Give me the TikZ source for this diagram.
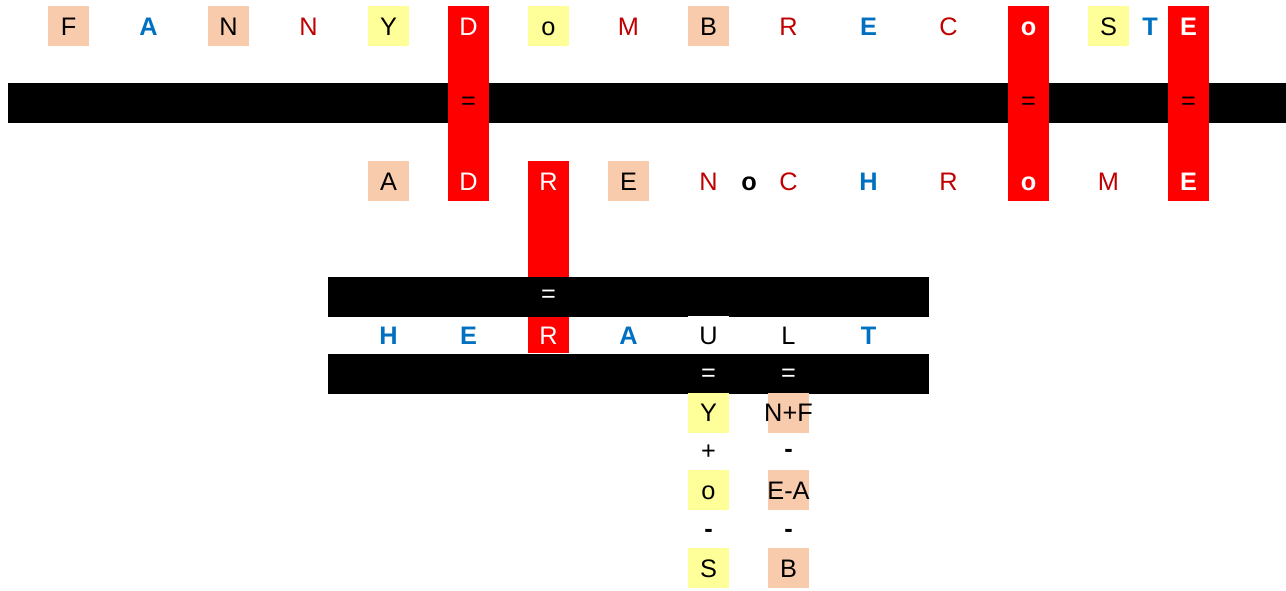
\documentclass[tikz,border=0pt]{standalone}
\usepackage{fontspec}
\setmainfont{Liberation Sans}
\usepackage{xcolor}
\definecolor{GridPeach}{HTML}{F8CBAD}
\definecolor{GridYellow}{HTML}{FFFF99}
\definecolor{GridRed}{HTML}{FF0000}
\definecolor{GridDarkRed}{HTML}{C00000}
\definecolor{GridBlue}{HTML}{0070C0}

\begin{document}
\begin{tikzpicture}[
  x=0.75pt,
  y=-0.75pt,
  letter/.style={
    inner sep=0pt,
    minimum width=30.75pt,
    minimum height=30pt,
    text height=13.6pt,
    text depth=0pt,
    font=\fontsize{19}{22}\selectfont
  },
  peachcell/.style={letter, fill=GridPeach, text=black},
  yellowcell/.style={letter, fill=GridYellow, text=black},
  onred/.style={letter, text=white},
  onredbold/.style={onred, font=\fontsize{19}{22}\selectfont\bfseries},
  blueletter/.style={letter, text=GridBlue, font=\fontsize{19}{22}\selectfont\bfseries},
  redletter/.style={letter, text=GridDarkRed},
  blackletter/.style={letter, text=black},
  sign/.style={inner sep=0pt, font=\fontsize{19}{22}\selectfont},
  bar/.style={fill=black},
  column/.style={fill=GridRed}
]

\useasboundingbox (0,0) rectangle (1286,590);

\fill[bar] (8,83) rectangle (1286,123);
\fill[bar] (328,277) rectangle (929,317);
\fill[bar] (328,354) rectangle (929,394);

\fill[column] (448,6) rectangle (489,201);
\fill[column] (1008,6) rectangle (1049,201);
\fill[column] (1168,6) rectangle (1209,201);
\fill[column] (528,161) rectangle (569,277);
\fill[column] (528,317) rectangle (569,353);

\node[peachcell] (fanF) at (68.5,26) {F};
\node[blueletter] (fanA) at (148.5,26) {A};
\node[peachcell] (fanN1) at (228.5,26) {N};
\node[redletter] (fanN2) at (308.5,26) {N};
\node[yellowcell] (fanY) at (388.5,26) {Y};
\node[onred] (domD) at (468.5,26) {D};
\node[yellowcell] (domO) at (548.5,26) {o};
\node[redletter] (domM) at (628.5,26) {M};
\node[peachcell] (breB) at (708.5,26) {B};
\node[redletter] (breR) at (788.5,26) {R};
\node[blueletter] (breE) at (868.5,26) {E};
\node[redletter] (cosC) at (948.5,26) {C};
\node[onredbold] (cosO) at (1028.5,26) {o};
\node[yellowcell] (cosS) at (1108.5,26) {S};
\node[blueletter] (cosT) at (1150,26) {T};
\node[onredbold] (cosE) at (1188.5,26) {E};

\foreach \x/\n in {468.5/eqD,1028.5/eqO,1188.5/eqE} {
  \node[sign,text=black] (\n) at (\x,103.5) {=};
}

\node[peachcell] (adrA) at (388.5,181) {A};
\node[onred] (adrD) at (468.5,181) {D};
\node[onred] (adrR) at (548.5,181) {R};
\node[peachcell] (adrE) at (628.5,181) {E};
\node[redletter] (nocN) at (708.5,181) {N};
\node[blackletter,font=\fontsize{19}{22}\selectfont\bfseries] (nocO) at (749,181) {o};
\node[redletter] (nocC) at (788.5,181) {C};
\node[blueletter] (chrH) at (868.5,181) {H};
\node[redletter] (chrR) at (948.5,181) {R};
\node[onredbold] (chrO) at (1028.5,181) {o};
\node[redletter] (chrM) at (1108.5,181) {M};
\node[onredbold] (chrE) at (1188.5,181) {E};

\node[sign,text=white] (eqR) at (548.5,296.5) {=};

\node[blueletter] (herH) at (388.5,335) {H};
\node[blueletter] (herE) at (468.5,335) {E};
\node[onred] (herR) at (548.5,335) {R};
\node[blueletter] (herA) at (628.5,335) {A};
\node[blackletter,fill=white,minimum height=28pt] (herU) at (708.5,335) {U};
\node[blackletter] (herL) at (788.5,335) {L};
\node[blueletter] (herT) at (868.5,335) {T};

\node[sign,text=white] (eqU) at (708.5,375) {=};
\node[sign,text=white] (eqL) at (788.5,375) {=};

\node[yellowcell] (sumY) at (708.5,412.5) {Y};
\node[peachcell] (sumNF) at (788.5,412.5) {\makebox[0pt]{N+F}};
\node[sign] (opPlus) at (708.5,452) {+};
\node[sign] (opMinusA) at (788.5,453) {\textbf{-}};
\node[yellowcell] (sumO) at (708.5,490) {o};
\node[peachcell] (sumEA) at (788.5,490) {\makebox[0pt]{E-A}};
\node[sign] (opMinusB) at (708.5,533) {\textbf{-}};
\node[sign] (opMinusC) at (788.5,533) {\textbf{-}};
\node[yellowcell] (sumS) at (708.5,568) {S};
\node[peachcell] (sumB) at (788.5,568) {B};

\end{tikzpicture}
\end{document}
